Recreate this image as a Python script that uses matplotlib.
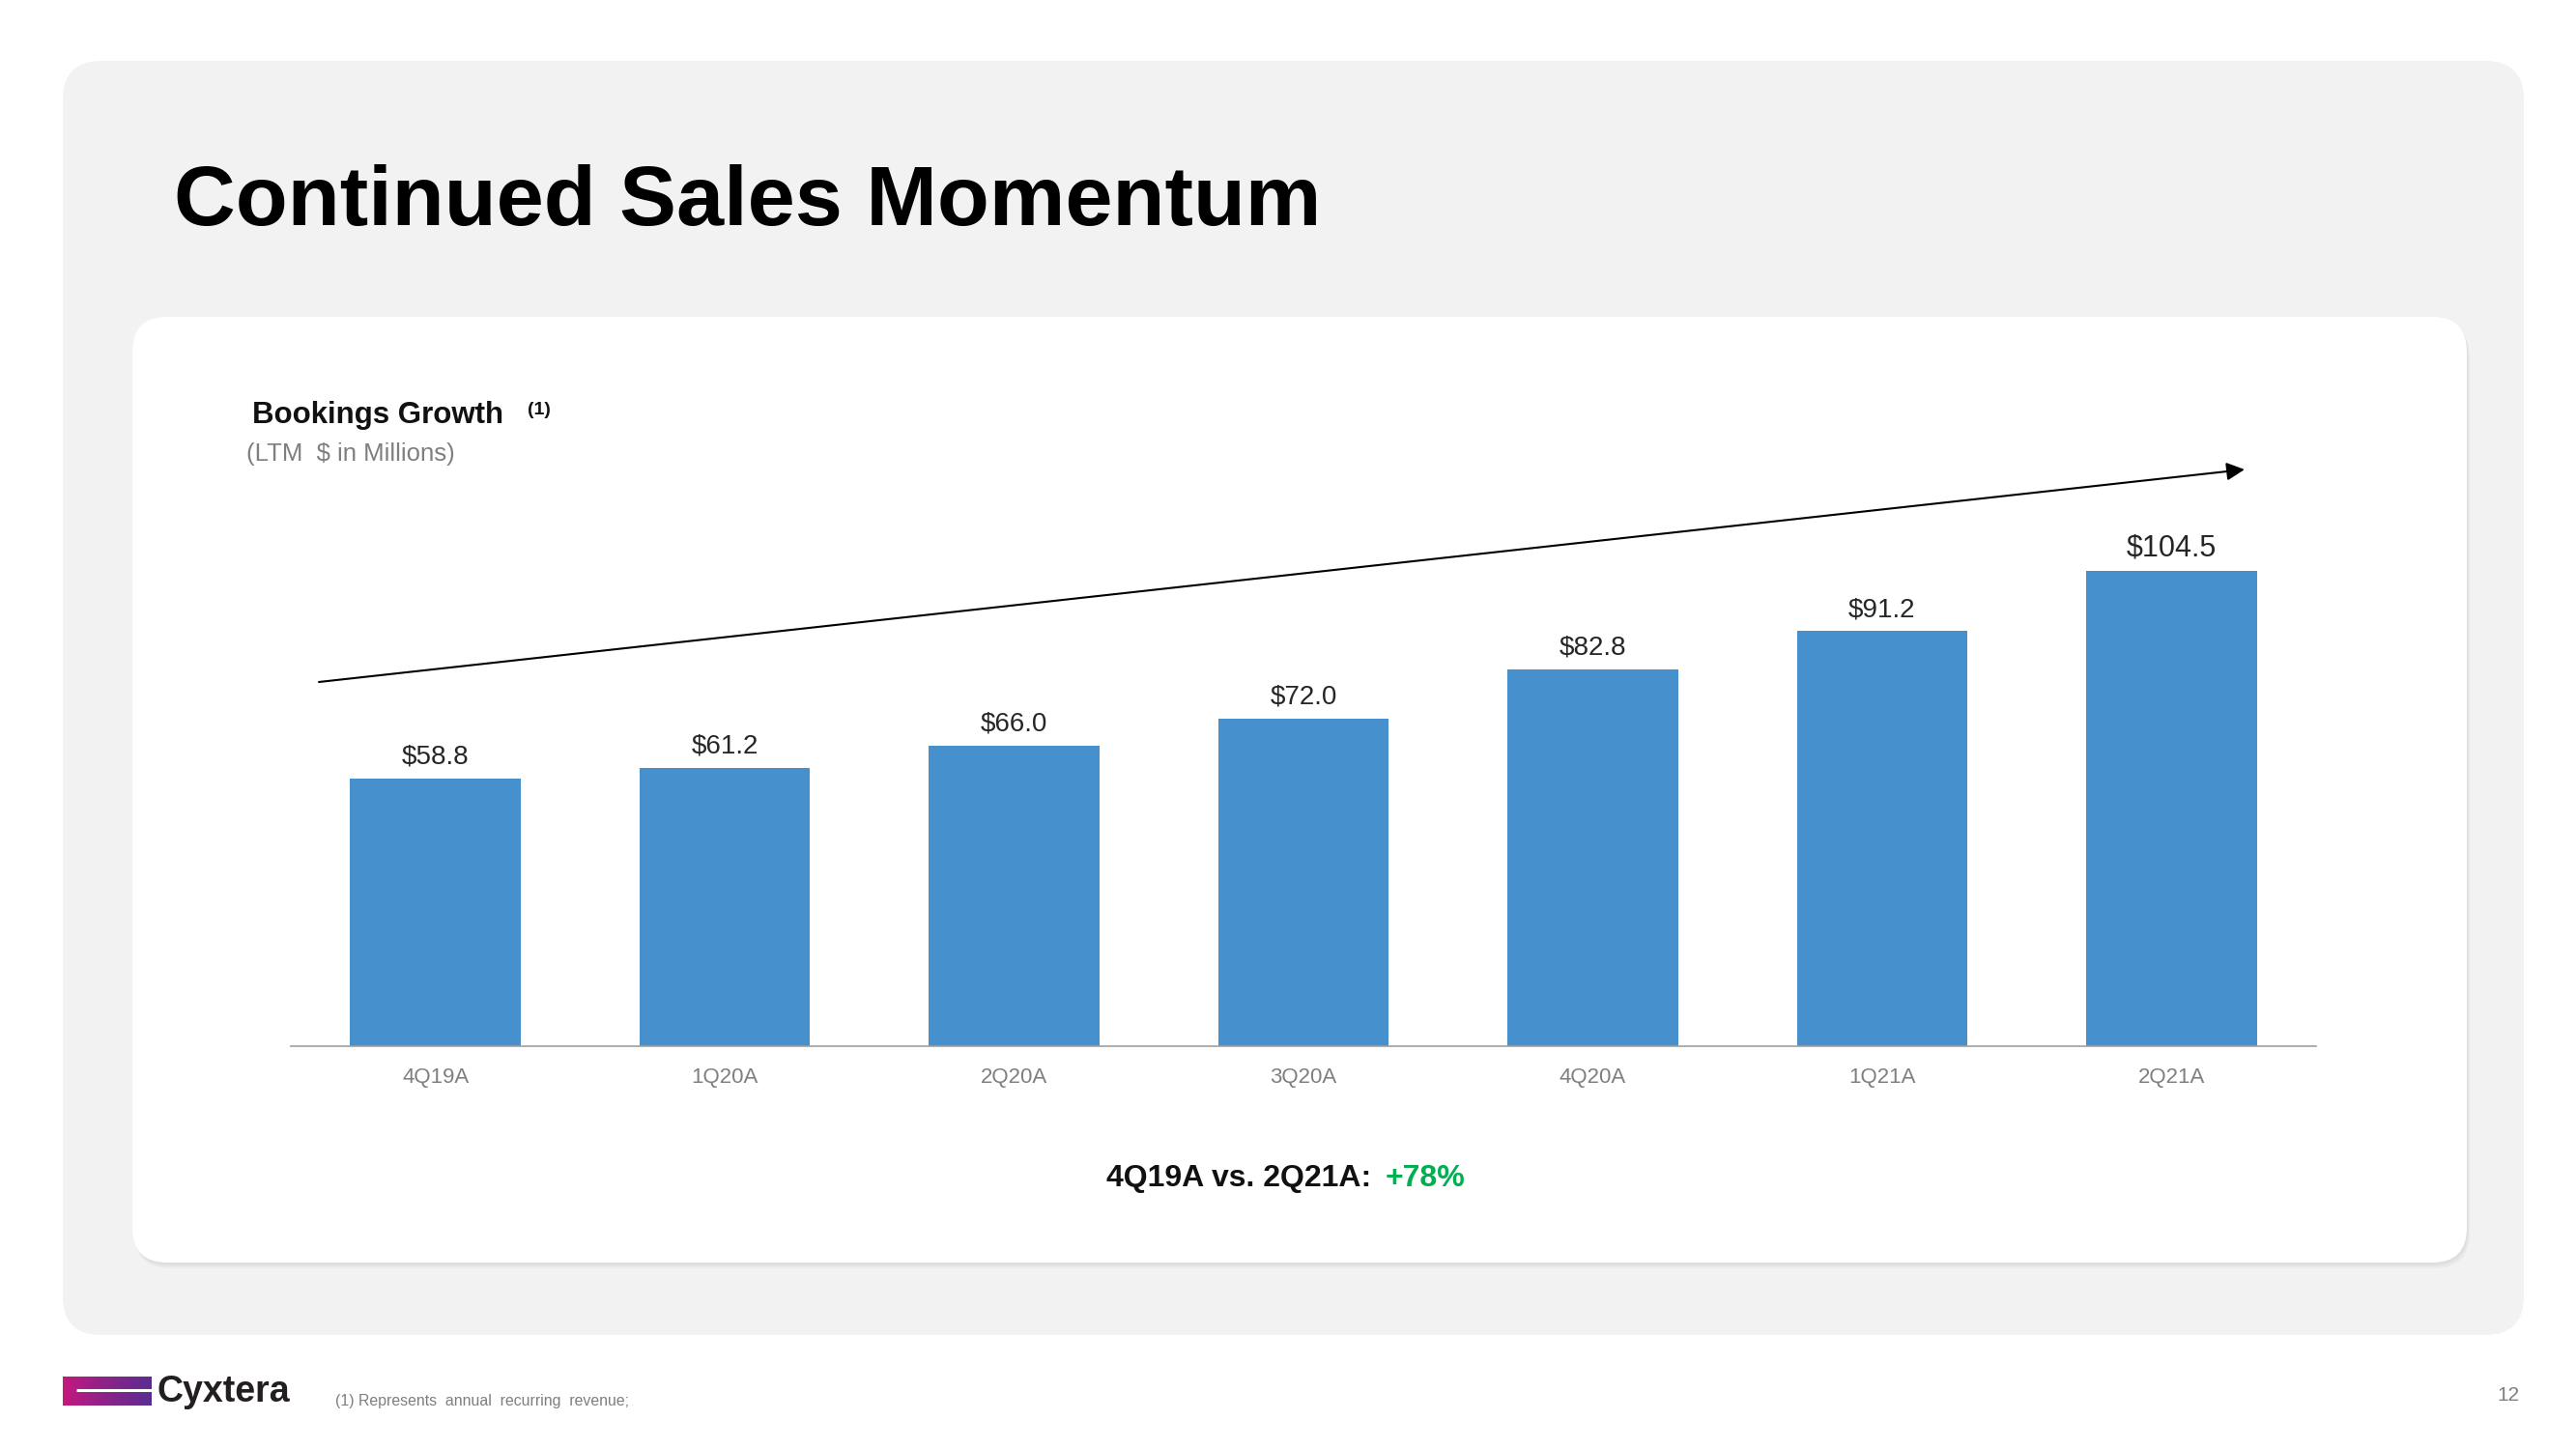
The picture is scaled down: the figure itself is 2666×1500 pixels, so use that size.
import numpy as np
import matplotlib
matplotlib.use("Agg")
import matplotlib.pyplot as plt
from matplotlib.patches import FancyBboxPatch
from matplotlib.colors import LinearSegmentedColormap

plt.rcParams["font.family"] = ["Liberation Sans", "DejaVu Sans"]

# chart data
quarters = ["4Q19A", "1Q20A", "2Q20A", "3Q20A", "4Q20A", "1Q21A", "2Q21A"]
bookings = [58.8, 61.2, 66.0, 72.0, 82.8, 91.2, 104.5]
growth_label = "+78%"

BAR_COLOR = "#4690ce"
GRAY = "#7f7f7f"
W, H = 2666, 1500

fig = plt.figure(figsize=(W / 100, H / 100), dpi=100, facecolor="white")

# background layer in pixel coordinates
bg = fig.add_axes([0, 0, 1, 1], zorder=0)
bg.set_xlim(0, W)
bg.set_ylim(H, 0)
bg.axis("off")

# outer light gray panel
bg.add_patch(FancyBboxPatch((65, 63), 2547, 1319,
                            boxstyle="round,pad=0,rounding_size=40",
                            fc="#f2f2f2", ec="none"))
# soft shadow + white card
for off, a in [(6, 0.25), (4, 0.35), (2, 0.5)]:
    bg.add_patch(FancyBboxPatch((137 + off * 0.5, 328 + off), 2416, 979,
                                boxstyle="round,pad=0,rounding_size=36",
                                fc="#d9d9d9", ec="none", alpha=a))
bg.add_patch(FancyBboxPatch((137, 328), 2416, 979,
                            boxstyle="round,pad=0,rounding_size=36",
                            fc="white", ec="none"))

# title
bg.text(180, 233, "Continued Sales Momentum", fontsize=63.5, fontweight="bold",
        color="black", va="baseline", ha="left")

# chart heading
bg.text(261, 438, "Bookings Growth", fontsize=22.5, fontweight="bold",
        color="#111111", va="baseline", ha="left")
bg.text(546, 416, "(1)", fontsize=14, fontweight="bold",
        color="#111111", va="top", ha="left")
bg.text(255, 477, "(LTM  $ in Millions)", fontsize=18.5,
        color=GRAY, va="baseline", ha="left")

# trend arrow
bg.annotate("", xy=(2323, 486), xytext=(330, 706),
            arrowprops=dict(arrowstyle="-|>", color="black", lw=1.5,
                            mutation_scale=28, shrinkA=0, shrinkB=0))

# comparison text
bg.text(1428, 1228, f"{quarters[0]} vs. {quarters[-1]}: ", fontsize=23,
        fontweight="bold", color="#111111", va="baseline", ha="right")
bg.text(1434, 1228, growth_label, fontsize=23, fontweight="bold",
        color="#00b050", va="baseline", ha="left")

# footer: logo, footnote, page number
cmap = LinearSegmentedColormap.from_list("cyx", ["#c4197e", "#8a2389", "#5a2d91"])
grad = np.linspace(0, 1, 256).reshape(1, -1)
bg.imshow(grad, cmap=cmap, extent=(65, 157, 1455, 1425), aspect="auto", zorder=2)
bg.plot([79, 157], [1439, 1439], color="white", lw=2.2, zorder=3,
        solid_capstyle="butt")
bg.set_xlim(0, W)
bg.set_ylim(H, 0)
bg.text(163, 1451, "Cyxtera", fontsize=27, fontweight="bold", color="#231f20",
        va="baseline", ha="left")
bg.text(347, 1451, "(1) Represents  annual  recurring  revenue;", fontsize=11.4,
        color=GRAY, va="center", ha="left")
bg.text(2608, 1445, "12", fontsize=15, color=GRAY, va="center", ha="right")

# bar chart
ax = fig.add_axes([301 / W, 417 / H, 2096 / W, 523 / H], zorder=1)
ax.patch.set_alpha(0)
x = np.arange(len(quarters))
ax.bar(x, bookings, width=0.59, color=BAR_COLOR, zorder=2)
ax.set_xlim(-0.5, len(quarters) - 0.5)
ax.set_ylim(0, 111)

for i, v in enumerate(bookings):
    last = i == len(bookings) - 1
    ax.annotate(f"${v:.1f}", (i, v), xytext=(0, 11), textcoords="offset points",
                ha="center", va="baseline", fontsize=22 if last else 20,
                color="#262626")

for side in ["top", "right", "left"]:
    ax.spines[side].set_visible(False)
ax.spines["bottom"].set_color("#a0a0a0")
ax.spines["bottom"].set_linewidth(1.2)
ax.set_yticks([])
ax.set_xticks(x)
ax.set_xticklabels(quarters, fontsize=16, color=GRAY)
ax.tick_params(axis="x", length=0, pad=16)

fig.savefig("out.png", dpi=100, facecolor="white")
plt.close(fig)
